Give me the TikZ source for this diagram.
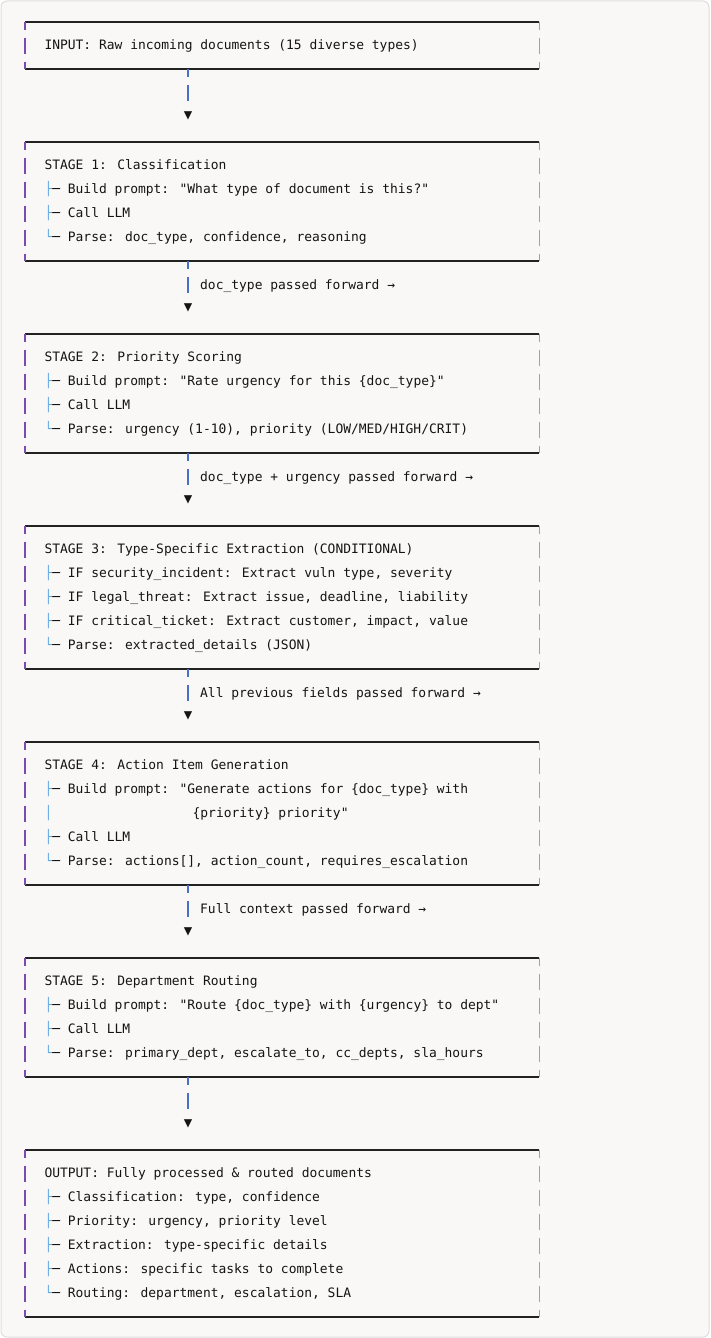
\documentclass[tikz,border=0pt]{standalone}
\usepackage{fontspec}
\usepackage{tikz}

\definecolor{paper}{RGB}{249, 248, 246}
\definecolor{rimgray}{RGB}{222, 222, 222}
\definecolor{framedark}{RGB}{34, 34, 34}
\definecolor{ink}{RGB}{20, 20, 20}
\definecolor{sidepurple}{RGB}{122, 76, 178}
\definecolor{sideorange}{RGB}{226, 152, 40}
\definecolor{linkblue}{RGB}{72, 112, 196}
\definecolor{treeblue}{RGB}{98, 170, 230}

\newfontfamily\codefont{DejaVu Sans Mono}
\newcommand{\codesize}{\fontsize{12.95pt}{24pt}\selectfont}
\newcommand{\tbranch}{{\color{treeblue}├}─ }
\newcommand{\tlast}{{\color{treeblue}└}─ }
\newcommand{\tpipe}{{\color{treeblue}│}}

\begin{document}
\begin{tikzpicture}[x=1pt, y=-1pt,
  rim/.style={draw=framedark, line width=1.3pt},
  leftside/.style={draw=sidepurple, line width=1.4pt, dash pattern=on 16pt off 8pt, dash phase=8pt},
  rightside/.style={draw=sideorange, line width=1.5pt, dash pattern=on 16pt off 8pt, dash phase=8pt},
  stagebox/.style={minimum width=514.3pt, inner sep=0pt, outer sep=0pt,
    append after command={
      (\tikzlastnode.north west) edge[rim] (\tikzlastnode.north east)
      (\tikzlastnode.south west) edge[rim] (\tikzlastnode.south east)
      (\tikzlastnode.north west) edge[leftside] (\tikzlastnode.south west)
      (\tikzlastnode.north east) edge[rightside] (\tikzlastnode.south east)}},
  txt/.style={anchor=base west, inner sep=0pt, text=ink, font=\codefont\codesize},
  tip/.style={inner sep=0pt, text=ink, font=\codefont\fontsize{14pt}{14pt}\selectfont},
  link/.style={draw=linkblue, line width=1.3pt, dash pattern=on 16pt off 8pt, dash phase=8pt, shorten >=14.5pt}
]
  \useasboundingbox (0,0) rectangle (710,1338);
  \draw[rimgray, fill=paper, line width=1pt, rounded corners=6pt] (1,1) rectangle (709,1337);

  % input
  \node[stagebox, minimum height=47pt] (input) at (282.15,45.5) {};
  \node[txt] (inhead) at (44.3,49) {INPUT: Raw incoming documents (15 diverse types)};
  \node[tip] (tip1) at (188,116) {▼};

  % stage 1
  \node[stagebox, minimum height=119pt] (stage1) at (282.15,201.5) {};
  \node[txt] (s1head) at (44.3,169) {STAGE 1: Classification};
  \node[txt] (s1build) at (44.3,193) {\tbranch Build prompt: "What type of document is this?"};
  \node[txt] (s1call) at (44.3,217) {\tbranch Call LLM};
  \node[txt] (s1parse) at (44.3,241) {\tlast Parse: doc\_type, confidence, reasoning};
  \node[txt] (pass1) at (200,289) {doc\_type passed forward →};
  \node[tip] (tip2) at (188,308) {▼};

  % stage 2
  \node[stagebox, minimum height=119pt] (stage2) at (282.15,393.5) {};
  \node[txt] (s2head) at (44.3,361) {STAGE 2: Priority Scoring};
  \node[txt] (s2build) at (44.3,385) {\tbranch Build prompt: "Rate urgency for this \{doc\_type\}"};
  \node[txt] (s2call) at (44.3,409) {\tbranch Call LLM};
  \node[txt] (s2parse) at (44.3,433) {\tlast Parse: urgency (1-10), priority (LOW/MED/HIGH/CRIT)};
  \node[txt] (pass2) at (200,481) {doc\_type + urgency passed forward →};
  \node[tip] (tip3) at (188,500) {▼};

  % stage 3
  \node[stagebox, minimum height=143pt] (stage3) at (282.15,597.5) {};
  \node[txt] (s3head) at (44.3,553) {STAGE 3: Type-Specific Extraction (CONDITIONAL)};
  \node[txt] (s3sec) at (44.3,577) {\tbranch IF security\_incident: Extract vuln type, severity};
  \node[txt] (s3legal) at (44.3,601) {\tbranch IF legal\_threat: Extract issue, deadline, liability};
  \node[txt] (s3ticket) at (44.3,625) {\tbranch IF critical\_ticket: Extract customer, impact, value};
  \node[txt] (s3parse) at (44.3,649) {\tlast Parse: extracted\_details (JSON)};
  \node[txt] (pass3) at (200,697) {All previous fields passed forward →};
  \node[tip] (tip4) at (188,716) {▼};

  % stage 4
  \node[stagebox, minimum height=143pt] (stage4) at (282.15,813.5) {};
  \node[txt] (s4head) at (44.3,769) {STAGE 4: Action Item Generation};
  \node[txt] (s4build) at (44.3,793) {\tbranch Build prompt: "Generate actions for \{doc\_type\} with};
  \node[txt] (s4wrap) at (44.3,817) {\tpipe\phantom{xxxxxxxxxxxxxxxxxx}\{priority\} priority"};
  \node[txt] (s4call) at (44.3,841) {\tbranch Call LLM};
  \node[txt] (s4parse) at (44.3,865) {\tlast Parse: actions[], action\_count, requires\_escalation};
  \node[txt] (pass4) at (200,913) {Full context passed forward →};
  \node[tip] (tip5) at (188,932) {▼};

  % stage 5
  \node[stagebox, minimum height=119pt] (stage5) at (282.15,1017.5) {};
  \node[txt] (s5head) at (44.3,985) {STAGE 5: Department Routing};
  \node[txt] (s5build) at (44.3,1009) {\tbranch Build prompt: "Route \{doc\_type\} with \{urgency\} to dept"};
  \node[txt] (s5call) at (44.3,1033) {\tbranch Call LLM};
  \node[txt] (s5parse) at (44.3,1057) {\tlast Parse: primary\_dept, escalate\_to, cc\_depts, sla\_hours};
  \node[tip] (tip6) at (188,1124) {▼};

  % output
  \node[stagebox, minimum height=167pt] (output) at (282.15,1233.5) {};
  \node[txt] (outhead) at (44.3,1177) {OUTPUT: Fully processed \& routed documents};
  \node[txt] (outclass) at (44.3,1201) {\tbranch Classification: type, confidence};
  \node[txt] (outprio) at (44.3,1225) {\tbranch Priority: urgency, priority level};
  \node[txt] (outextr) at (44.3,1249) {\tbranch Extraction: type-specific details};
  \node[txt] (outact) at (44.3,1273) {\tbranch Actions: specific tasks to complete};
  \node[txt] (outroute) at (44.3,1297) {\tlast Routing: department, escalation, SLA};

  % connectors
  \draw[link] (input.south -| tip1) -- (tip1.center);
  \draw[link] (stage1.south -| tip2) -- (tip2.center);
  \draw[link] (stage2.south -| tip3) -- (tip3.center);
  \draw[link] (stage3.south -| tip4) -- (tip4.center);
  \draw[link] (stage4.south -| tip5) -- (tip5.center);
  \draw[link] (stage5.south -| tip6) -- (tip6.center);
\end{tikzpicture}
\end{document}
